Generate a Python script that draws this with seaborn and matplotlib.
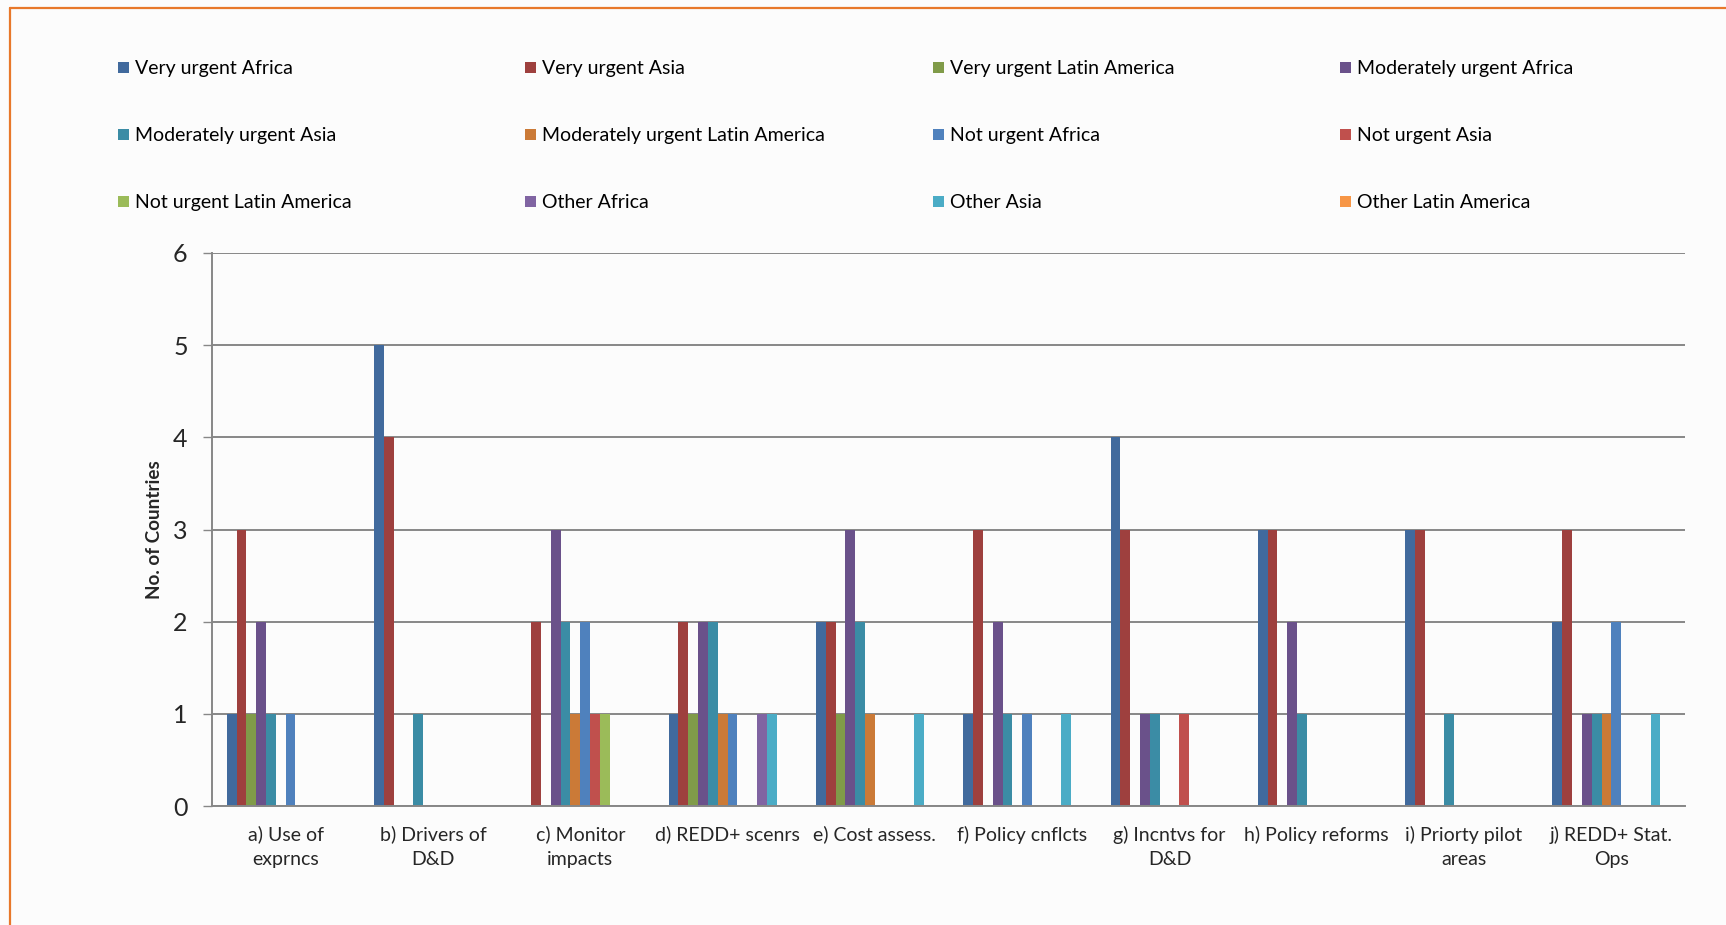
import numpy as np
import pandas as pd
import matplotlib
matplotlib.use("Agg")
import matplotlib.pyplot as plt
import seaborn as sns
from matplotlib.patches import Rectangle
from matplotlib.lines import Line2D

# ---------------- data ----------------
categories = [
    "a) Use of\nexprncs", "b) Drivers of\nD&D", "c) Monitor\nimpacts",
    "d) REDD+ scenrs", "e) Cost assess.", "f) Policy cnflcts",
    "g) Incntvs for\nD&D", "h) Policy reforms", "i) Priorty pilot\nareas",
    "j) REDD+ Stat.\nOps",
]
series_names = [
    "Very urgent Africa", "Very urgent Asia", "Very urgent Latin America",
    "Moderately urgent Africa", "Moderately urgent Asia", "Moderately urgent Latin America",
    "Not urgent Africa", "Not urgent Asia", "Not urgent Latin America",
    "Other Africa", "Other Asia", "Other Latin America",
]
very_urgent_africa = [1, 5, 0, 1, 2, 1, 4, 3, 3, 2]
very_urgent_asia = [3, 4, 2, 2, 2, 3, 3, 3, 3, 3]
very_urgent_latam = [1, 0, 0, 1, 1, 0, 0, 0, 0, 0]
mod_urgent_africa = [2, 0, 3, 2, 3, 2, 1, 2, 0, 1]
mod_urgent_asia = [1, 1, 2, 2, 2, 1, 1, 1, 1, 1]
mod_urgent_latam = [0, 0, 1, 1, 1, 0, 0, 0, 0, 1]
not_urgent_africa = [1, 0, 2, 1, 0, 1, 0, 0, 0, 2]
not_urgent_asia = [0, 0, 1, 0, 0, 0, 1, 0, 0, 0]
not_urgent_latam = [0, 0, 1, 0, 0, 0, 0, 0, 0, 0]
other_africa = [0, 0, 0, 1, 0, 0, 0, 0, 0, 0]
other_asia = [0, 0, 0, 1, 1, 1, 0, 0, 0, 1]
other_latam = [0, 0, 0, 0, 0, 0, 0, 0, 0, 0]
y_ticks = [0, 1, 2, 3, 4, 5, 6]

series_values = [
    very_urgent_africa, very_urgent_asia, very_urgent_latam,
    mod_urgent_africa, mod_urgent_asia, mod_urgent_latam,
    not_urgent_africa, not_urgent_asia, not_urgent_latam,
    other_africa, other_asia, other_latam,
]
colors = [
    "#416A9D", "#9E403E", "#809B49", "#6A518A", "#3B8CA5", "#CB7A37",
    "#4F81BD", "#C0504D", "#9BBB59", "#8064A2", "#4BACC6", "#F79646",
]

rows = []
for name, vals in zip(series_names, series_values):
    for cat, v in zip(categories, vals):
        rows.append({"Category": cat, "Series": name, "Count": v})
df = pd.DataFrame(rows)

# ---------------- figure ----------------
sns.set_style("white")
plt.rcParams["font.family"] = ["Lato", "DejaVu Sans"]
W, H = 1726, 925
fig = plt.figure(figsize=(W / 100, H / 100), dpi=100, facecolor="#fcfcfc")

left, right, top, bottom = 212, 1685, 253, 806
ax = fig.add_axes([left / W, 1 - bottom / H, (right - left) / W, (bottom - top) / H])
ax.set_facecolor("none")

sns.barplot(data=df, x="Category", y="Count", hue="Series",
            order=categories, hue_order=series_names, palette=colors,
            width=0.8, dodge=True, errorbar=None, legend=False,
            saturation=1, linewidth=0, ax=ax)

grid_c = "#878787"
ax.set_ylim(0, 6)
ax.set_xlim(-0.5, len(categories) - 0.5)
ax.set_yticks(y_ticks)
ax.set_yticklabels([str(t) for t in y_ticks], fontsize=18)
ax.yaxis.grid(True, color=grid_c, linewidth=1.4)
ax.set_axisbelow(True)
for s in ["top", "right"]:
    ax.spines[s].set_visible(False)
for s in ["left", "bottom"]:
    ax.spines[s].set_color(grid_c)
    ax.spines[s].set_linewidth(1.4)
ax.tick_params(axis="y", length=6.5, width=1.0, color=grid_c, pad=11, left=True)
ax.tick_params(axis="x", length=0, pad=14, labelsize=14)
for lbl in ax.get_xticklabels():
    lbl.set_linespacing(1.55)
ax.set_xlabel("")
ax.set_ylabel("No. of Countries", fontsize=13.6, fontweight="bold")
ax.yaxis.set_label_coords(-0.033, 0.5)

# ---------------- legend (4 columns x 3 rows) ----------------
col_x = [118, 525, 933, 1340]
row_y = [67, 134, 201]
for i, (name, c) in enumerate(zip(series_names, colors)):
    cx = col_x[i % 4]
    cy = row_y[i // 4]
    fig.patches.append(Rectangle(((cx) / W, 1 - (cy + 6) / H), 11 / W, 11 / H,
                                 transform=fig.transFigure, facecolor=c,
                                 edgecolor="none"))
    fig.text((cx + 17) / W, 1 - cy / H, name, fontsize=14, va="center_baseline",
             ha="left", color="#000000")

# ---------------- orange frame ----------------
oc = "#E8782A"
fig.add_artist(Line2D([10 / W, 10 / W], [1 - 8 / H, 0], transform=fig.transFigure,
                      color=oc, linewidth=1.6))
fig.add_artist(Line2D([10 / W, 1.0], [1 - 8 / H, 1 - 8 / H], transform=fig.transFigure,
                      color=oc, linewidth=1.6))

fig.savefig("out.png", dpi=100, facecolor=fig.get_facecolor())
